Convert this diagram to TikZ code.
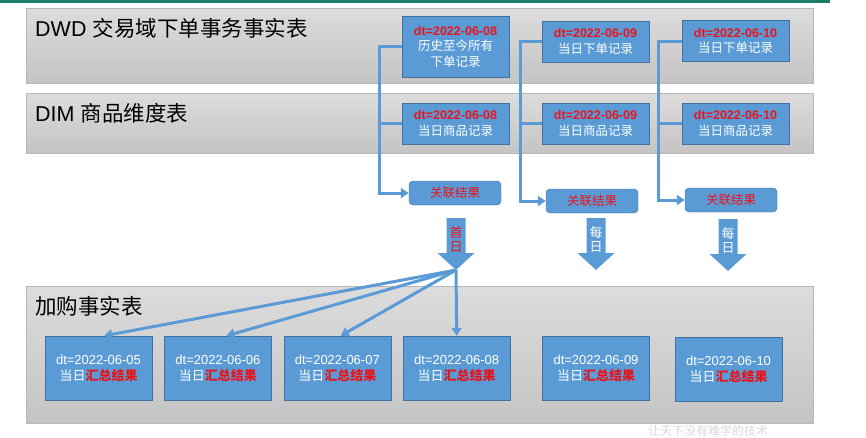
\documentclass[tikz,border=0pt]{standalone}
\usepackage{fontspec}
\setmainfont{Liberation Sans}
\newfontfamily\cjk{Noto Sans CJK SC}
\usetikzlibrary{arrows.meta, positioning, calc}

\definecolor{boxblue}{HTML}{5B9BD5}
\definecolor{boxline}{HTML}{41719C}
\definecolor{datered}{HTML}{E8141C}
\definecolor{bandtop}{HTML}{DCDCDC}
\definecolor{bandbot}{HTML}{C4C4C4}
\definecolor{bandline}{HTML}{B8B8B8}
\definecolor{flowblue}{HTML}{5B9BD5}
\definecolor{topline}{HTML}{1F7F66}

\newcommand{\dtred}[1]{{\normalfont\bfseries\color{datered}dt=#1}}
\newcommand{\dtsum}[1]{{\normalfont dt=#1}\\当日{\bfseries\color{datered}汇总结果}}

\begin{document}
\begin{tikzpicture}[x=1pt, y=-1pt,
		node distance=12pt,
		band/.style={draw=bandline, top color=bandtop, bottom color=bandbot,
			minimum width=787pt, inner sep=0pt, anchor=north west},
		title/.style={anchor=west, inner sep=0pt, font=\fontsize{21.5}{24}\selectfont},
		rec/.style={draw=boxline, fill=boxblue, text=white, minimum width=107pt,
			minimum height=#1, inner sep=0pt, align=center,
			font=\fontsize{12.5}{15.5}\selectfont\cjk},
		rec/.default=41pt,
		merged/.style={draw=boxline, fill=boxblue, rounded corners=4pt, minimum width=92pt,
			minimum height=24pt, inner sep=0pt, text=datered,
			font=\fontsize{12.5}{15}\selectfont\cjk},
		sum/.style={rec=64pt, font=\fontsize{13}{16}\selectfont\cjk},
		daytext/.style={inner sep=0pt, align=center, font=\fontsize{13}{14}\selectfont\cjk},
		flow/.style={draw=flowblue, line width=3pt, -{Triangle[width=10pt,length=8pt]}},
		link/.style={draw=flowblue, line width=3pt}
		]
		\useasboundingbox (0,0) rectangle (866,437);
		\fill[topline] (0,0) rectangle (830,2.5);
		
		% layers
		\node[band, minimum height=75pt]  (dwd) at (26,8)   {};
		\node[band, minimum height=60pt]  (dim) at (26,93)  {};
		\node[band, minimum height=137pt] (cart) at (26,286) {};
		\node[title] (dwdT)  at (35,28)  {DWD {\cjk 交易域下单事务事实表}};
		\node[title] (dimT)  at (35,113) {DIM {\cjk 商品维度表}};
		\node[title] (cartT) at (35,306) {\cjk 加购事实表};
		
		% daily partitions
		\node[rec=61pt] (A1) at (455.5,46.5) {\dtred{2022-06-08}\\历史至今所有\\下单记录};
		\node[rec]      (A2) at (595.5,41.5) {\dtred{2022-06-09}\\当日下单记录};
		\node[rec]      (A3) at (735.5,41)   {\dtred{2022-06-10}\\当日下单记录};
		\node[rec]      (B1) at (455.5,123.5) {\dtred{2022-06-08}\\当日商品记录};
		\node[rec]      (B2) at (595.5,123.5) {\dtred{2022-06-09}\\当日商品记录};
		\node[rec]      (B3) at (735.5,123.5) {\dtred{2022-06-10}\\当日商品记录};
		\node[merged]   (C1) at (455,193) {关联结果};
		\node[merged]   (C2) at (592,201) {关联结果};
		\node[merged]   (C3) at (731,200) {关联结果};
		
		\draw[flow] (A1.west) -- ++(-22,0) |- (C1.west);
		\draw[link] (B1.west) -- ++(-22,0);
		\draw[flow] (A2.west) -- ++(-21,0) |- (C2.west);
		\draw[link] (B2.west) -- ++(-21,0);
		\draw[flow] (A3.west) -- ++(-23,0) |- (C3.west);
		\draw[link] (B3.west) -- ++(-23,0);
		
		% block arrows
		\foreach \n/\x/\y/\ta/\tb/\c in {1/456/218/首/日/datered, 2/596/218/每/日/white, 3/728/219/每/日/white}{
			\fill[flowblue] (\x-9.5,\y) -- ++(19,0) -- ++(0,35) -- ++(9,0) -- (\x,\y+52)
				-- (\x-18.5,\y+35) -- ++(9,0) -- cycle;
			\node[daytext, text=\c] (day\n) at (\x,\y+21.5) {\ta\\\tb};
			\coordinate (tip\n) at (\x,\y+52);
		}
		
		% summary partitions
		\node[sum] (D1) at (98.5,368) {\dtsum{2022-06-05}};
		\node[sum, right=of D1] (D2) {\dtsum{2022-06-06}};
		\node[sum, right=of D2] (D3) {\dtsum{2022-06-07}};
		\node[sum, right=of D3] (D4) {\dtsum{2022-06-08}};
		\node[sum] (D5) at (596,368)    {\dtsum{2022-06-09}};
		\node[sum] (D6) at (728.5,369.5) {\dtsum{2022-06-10}};
		
		\draw[flow] (tip1) -- (D1.80);
		\draw[flow] (tip1) -- (D2.75);
		\draw[flow] (tip1) -- (D3.84);
		\draw[flow] (tip1) -- (D4.north);
		
		\node[text=gray!30, inner sep=0pt, font=\fontsize{12}{12}\selectfont\cjk] (mark) at (708,430.5) {让天下没有难学的技术};
	\end{tikzpicture}
\end{document}
